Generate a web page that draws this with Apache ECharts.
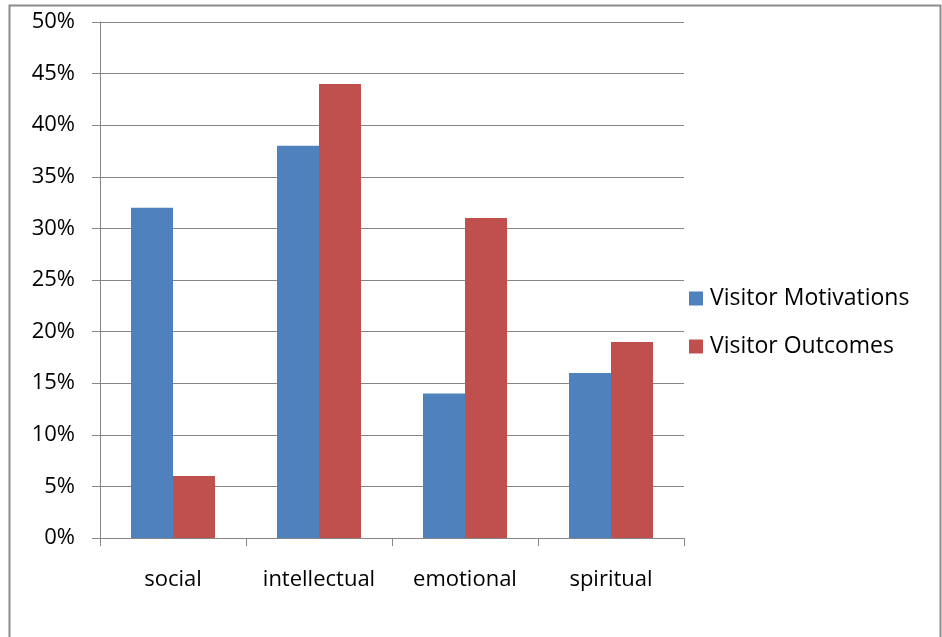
<!DOCTYPE html>
<html>
<head>
<meta charset="utf-8">
<script src="https://cdn.jsdelivr.net/npm/echarts@6/dist/echarts.min.js"></script>
<style>
  html, body { margin: 0; padding: 0; background: #fff; }
  #chart { width: 942px; height: 637px; }
</style>
</head>
<body>
<div id="chart"></div>
<script>
// Share of visitors by category
const categories = ['social', 'intellectual', 'emotional', 'spiritual'];
const motivations = [32, 38, 14, 16];
const outcomes = [6, 44, 31, 19];
const seriesNames = ['Visitor Motivations', 'Visitor Outcomes'];

const FONT = '"Open Sans", "Noto Sans", sans-serif';
const chart = echarts.init(document.getElementById('chart'), null, { renderer: 'canvas' });

chart.setOption({
  animation: false,
  backgroundColor: '#ffffff',
  graphic: [{
    type: 'rect',
    shape: { x: 9.5, y: 5.5, width: 931, height: 700 },
    style: { fill: 'none', stroke: '#8c8c8c', lineWidth: 2 },
    silent: true
  }],
  grid: { left: 100, top: 22, right: 258, bottom: 99, containLabel: false },
  legend: {
    orient: 'vertical',
    left: 684,
    top: 282,
    itemWidth: 14,
    itemHeight: 14,
    itemGap: 25,
    icon: 'rect',
    data: seriesNames,
    textStyle: { fontFamily: FONT, fontSize: 23, color: '#000', padding: [0, 0, 0, 2] }
  },
  xAxis: {
    type: 'category',
    data: categories,
    axisLine: { lineStyle: { color: '#868686', width: 1 } },
    axisTick: { show: true, length: 8, interval: 0, lineStyle: { color: '#868686' } },
    axisLabel: { fontFamily: FONT, fontSize: 22, color: '#000', margin: 31, interval: 0 },
    splitLine: { show: false }
  },
  yAxis: {
    type: 'value',
    min: 0,
    max: 50,
    interval: 5,
    axisLine: { show: true, lineStyle: { color: '#868686', width: 1 } },
    axisTick: { show: true, length: 8, lineStyle: { color: '#868686' } },
    axisLabel: { fontFamily: FONT, fontSize: 22, color: '#000', margin: 25, formatter: '{value}%' },
    splitLine: { show: true, lineStyle: { color: '#868686', width: 1 } }
  },
  series: [
    {
      name: seriesNames[0],
      type: 'bar',
      data: motivations,
      barWidth: 42,
      barGap: '0%',
      itemStyle: { color: '#4F81BD' }
    },
    {
      name: seriesNames[1],
      type: 'bar',
      data: outcomes,
      barWidth: 42,
      barGap: '0%',
      itemStyle: { color: '#C0504D' }
    }
  ]
});
</script>
</body>
</html>
